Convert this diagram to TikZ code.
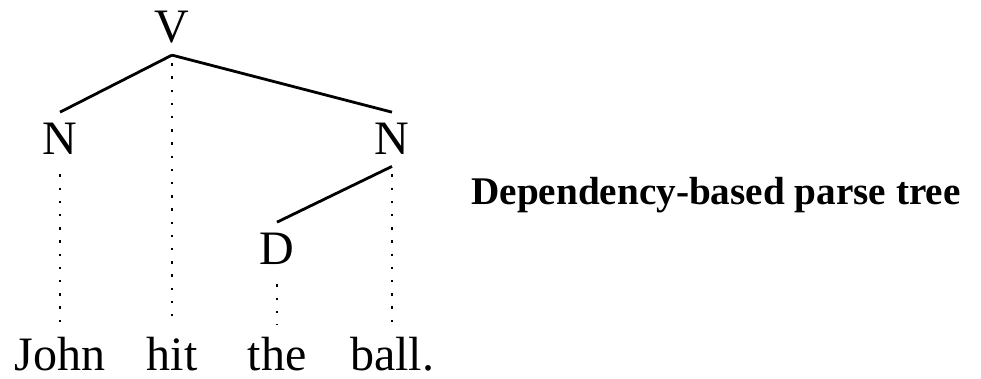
\documentclass[tikz,border=0pt]{standalone}
\usepackage{fontspec}
\setmainfont{Liberation Serif}
\usetikzlibrary{positioning}
\tikzset{cat/.style={font=\fontsize{24}{24}\selectfont, inner sep=5pt, anchor=base},
  word/.style={cat, inner sep=1.5pt},
  proj/.style={line width=1.2pt, dash pattern=on 1.2pt off 5.4pt, shorten <=4pt, shorten >=4pt}}

\begin{document}
\begin{tikzpicture}[x=0.5pt, y=-0.5pt, line width=1.4pt]
\useasboundingbox (0, 0) rectangle (981, 379);
\node[cat] (V) at (172, 43) {V};
\node[cat] (Nl) at (60, 155) {N};
\node[cat] (Nr) at (392, 155) {N};
\node[cat] (D) at (277, 265) {D};
\node[word] (john) at (60, 371) {John};
\node[word] (hit) at (172, 371) {hit};
\node[word] (the) at (277, 371) {the};
\node[word] (ball) at (392, 371) {ball.};
\draw (V.south) -- (Nl.north);
\draw (V.south) -- (Nr.north);
\draw (Nr.south) -- (D.north);
\draw[proj] (V.south) -- (hit.north);
\draw[proj] (Nl.south) -- (john.north);
\draw[proj] (Nr.south) -- (ball.north -| Nr.south);
\draw[proj] (D.south) -- (the.north);
\node[anchor=base west, inner sep=0pt, font=\fontsize{19.6}{19.6}\selectfont\bfseries] (title) at (470, 205) {Dependency-based parse tree};
\end{tikzpicture}
\end{document}
